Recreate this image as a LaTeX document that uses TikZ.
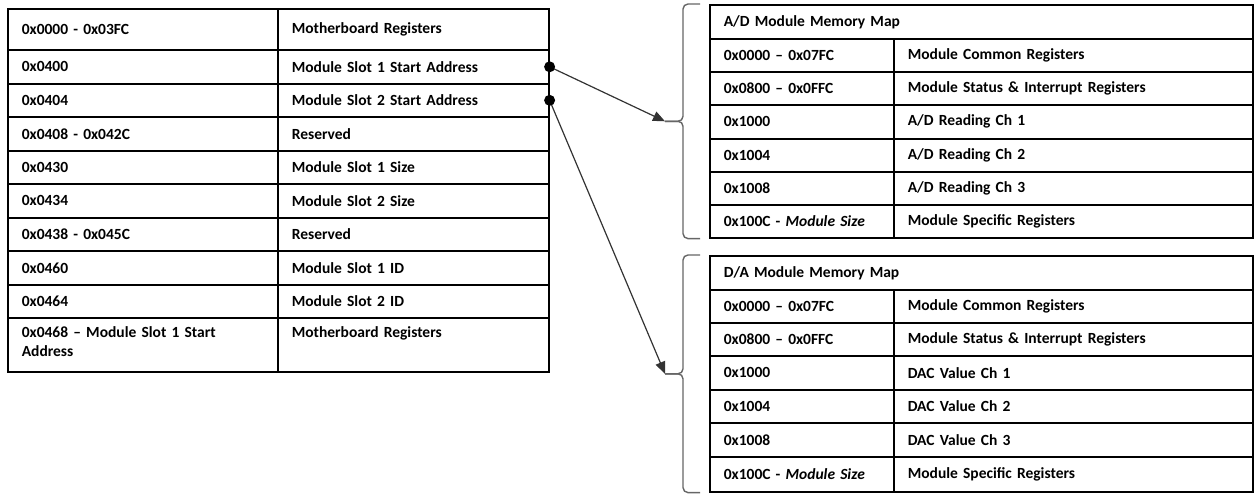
\documentclass[tikz,border=0pt]{standalone}
\usepackage{fontspec}
\setmainfont{Carlito}
\usetikzlibrary{arrows.meta,calc}

\tikzset{
  mcell/.style={draw, line width=1.6pt, anchor=north west, inner xsep=14pt, inner ysep=0pt,
    align=left, font=\fontsize{15.5}{19}\selectfont\bfseries},
  link/.style={draw=black!80, line width=1.2pt, -{Triangle[length=12pt,width=10pt]}},
  bracket/.style={draw=black!60, line width=1.4pt, rounded corners=5pt}
}

\begin{document}
\begin{tikzpicture}[x=1pt, y=-1pt]
\useasboundingbox (0,0) rectangle (1260,498);

% motherboard map
\foreach \i/\y/\h/\adr/\dsc in {
  0/8/41/{0x0000 - 0x03FC}/{Motherboard Registers},
  1/49/34/{0x0400}/{Module Slot 1 Start Address},
  2/83/33/{0x0404}/{Module Slot 2 Start Address},
  3/116/34/{0x0408 - 0x042C}/{Reserved},
  4/150/33/{0x0430}/{Module Slot 1 Size},
  5/183/34/{0x0434}/{Module Slot 2 Size},
  6/217/33/{0x0438 - 0x045C}/{Reserved},
  7/250/34/{0x0460}/{Module Slot 1 ID},
  8/284/33/{0x0464}/{Module Slot 2 ID},
  9/317/54/{0x0468 – Module Slot 1 Start\\Address\strut}/{Motherboard Registers\\\strut}}
{
  \node[mcell, text width=242pt, minimum height=\h pt] (mb-a\i) at (7,\y) {\adr};
  \node[mcell, text width=243pt, minimum height=\h pt] (mb-d\i) at (277,\y) {\dsc};
}

% A/D module
\node[mcell, text width=515pt, minimum height=34pt] (ad-h) at (709,4) {A/D Module Memory Map};
\foreach \i/\y/\h/\adr/\dsc in {
  1/38/33/{0x0000 – 0x07FC}/{Module Common Registers},
  2/71/33/{0x0800 – 0x0FFC}/{Module Status \& Interrupt Registers},
  3/104/34/{0x1000}/{A/D Reading Ch 1},
  4/138/33/{0x1004}/{A/D Reading Ch 2},
  5/171/33/{0x1008}/{A/D Reading Ch 3},
  6/204/33/{0x100C - \textit{Module Size}}/{Module Specific Registers}}
{
  \node[mcell, text width=156pt, minimum height=\h pt] (ad-a\i) at (709,\y) {\adr};
  \node[mcell, text width=331pt, minimum height=\h pt] (ad-d\i) at (893,\y) {\dsc};
}

% D/A module
\node[mcell, text width=515pt, minimum height=34pt] (da-h) at (709,255) {D/A Module Memory Map};
\foreach \i/\y/\h/\adr/\dsc in {
  1/289/33/{0x0000 – 0x07FC}/{Module Common Registers},
  2/322/33/{0x0800 – 0x0FFC}/{Module Status \& Interrupt Registers},
  3/355/34/{0x1000}/{DAC Value Ch 1},
  4/389/33/{0x1004}/{DAC Value Ch 2},
  5/422/34/{0x1008}/{DAC Value Ch 3},
  6/456/35/{0x100C - \textit{Module Size}}/{Module Specific Registers}}
{
  \node[mcell, text width=156pt, minimum height=\h pt] (da-a\i) at (709,\y) {\adr};
  \node[mcell, text width=331pt, minimum height=\h pt] (da-d\i) at (893,\y) {\dsc};
}

% braces
\coordinate (ad-tip) at ($(ad-h.north west)!0.5!(ad-a6.south west)+(-44,0)$);
\coordinate (da-tip) at ($(da-h.north west)!0.5!(da-a6.south west)+(-44,0)$);
\draw[bracket] ([xshift=-9pt]ad-h.north west) -| ($(ad-tip)+(18,0)$) -- (ad-tip);
\draw[bracket] (ad-tip) -- ($(ad-tip)+(18,0)$) |- ([xshift=-9pt]ad-a6.south west);
\draw[bracket] ([xshift=-9pt]da-h.north west) -| ($(da-tip)+(18,0)$) -- (da-tip);
\draw[bracket] (da-tip) -- ($(da-tip)+(18,0)$) |- ([xshift=-9pt]da-a6.south west);

% slot pointers
\draw[link] (mb-d1.east) -- (ad-tip);
\draw[link] (mb-d2.east) -- (da-tip);
\fill (mb-d1.east) circle (5.5pt);
\fill (mb-d2.east) circle (5.5pt);
\end{tikzpicture}
\end{document}
